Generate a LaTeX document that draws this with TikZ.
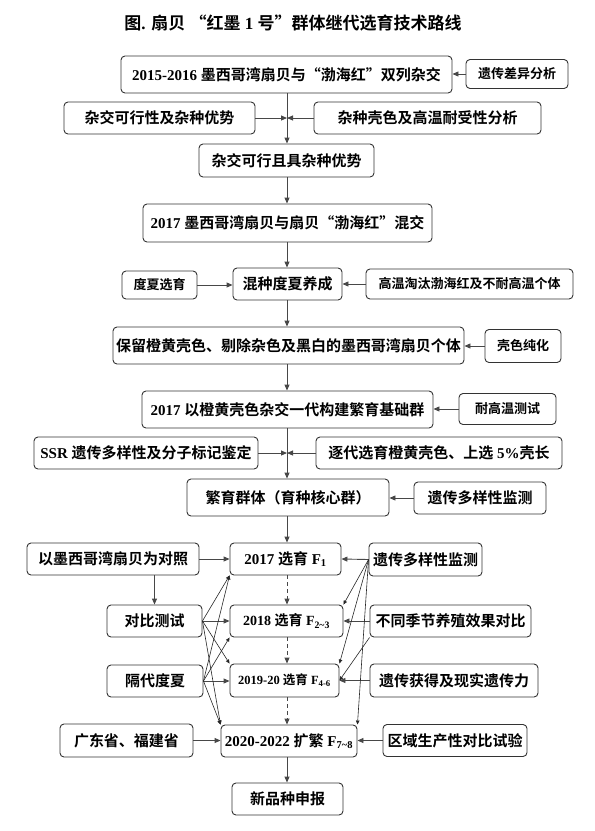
\documentclass[tikz,border=0pt]{standalone}
\usepackage{fontspec}
\setmainfont{Liberation Serif}
\newfontfamily\cjk{Noto Sans CJK SC}[BoldFont={Noto Sans CJK SC Bold}]
\usetikzlibrary{arrows.meta}

\newcommand{\lat}[1]{{\rmfamily #1}}

\tikzset{
  box/.style={draw=black!80, rounded corners=4pt, line width=0.9pt, inner sep=0pt,
    align=center, font={\fontsize{15}{18}\selectfont\cjk\bfseries}},
  small/.style={font={\fontsize{13}{16}\selectfont\cjk\bfseries}},
  arr/.style={draw=black!72, line width=0.9pt, -{Triangle[length=6pt,width=5pt]}},
  darr/.style={arr, dash pattern=on 4pt off 3pt},
  xarr/.style={draw=black!85, line width=0.6pt, -{Triangle[length=4pt,width=3.5pt]}}
}

\begin{document}
\begin{tikzpicture}[x=1pt,y=-1pt]
  \useasboundingbox (0,0) rectangle (595,831);
  \coordinate (trunk) at (287,0);

  % title
  \node[font={\fontsize{17}{20}\selectfont\cjk\bfseries}] (title) at (293,23)
    {图\lat{. }扇贝\lat{ }“红墨\lat{ 1 }号”群体继代选育技术路线};

  % crossing stage
  \node[box, minimum width=331, minimum height=37] (cross) at (286.5,74.5)
    {\lat{2015-2016 }墨西哥湾扇贝与“渤海红”双列杂交};
  \node[box, small, minimum width=102, minimum height=29] (gendiff) at (517,74) {遗传差异分析};
  \node[box, minimum width=191, minimum height=32] (feas) at (159.5,118) {杂交可行性及杂种优势};
  \node[box, minimum width=227, minimum height=32] (shellheat) at (427.5,118) {杂种壳色及高温耐受性分析};
  \node[box, minimum width=175, minimum height=33] (hetero) at (286.5,160.5) {杂交可行且具杂种优势};
  \node[box, minimum width=289, minimum height=38] (mixcross) at (287.5,223)
    {\lat{2017 }墨西哥湾扇贝与扇贝“渤海红”混交};

  % over-summering
  \node[box, small, minimum width=75, minimum height=28] (summer) at (159.5,285) {度夏选育};
  \node[box, minimum width=109, minimum height=32] (oversum) at (287.5,284) {混种度夏养成};
  \node[box, small, minimum width=207, minimum height=30] (heatcull) at (469.5,284) {高温淘汰渤海红及不耐高温个体};
  \node[box, minimum width=351, minimum height=37] (keep) at (288.5,345.5)
    {保留橙黄壳色、剔除杂色及黑白的墨西哥湾扇贝个体};
  \node[box, small, minimum width=76, minimum height=33] (purify) at (523,346) {壳色纯化};

  % base population
  \node[box, minimum width=291, minimum height=37] (base) at (287.5,409.5)
    {\lat{2017 }以橙黄壳色杂交一代构建繁育基础群};
  \node[box, small, minimum width=97, minimum height=31] (heattest) at (507.5,409) {耐高温测试};
  \node[box, minimum width=224, minimum height=32] (ssr) at (146,453) {\lat{SSR }遗传多样性及分子标记鉴定};
  \node[box, minimum width=246, minimum height=32] (select) at (439,453) {逐代选育橙黄壳色、上选\lat{ 5\%}壳长};
  \node[box, minimum width=202, minimum height=37] (core) at (288,497.5) {繁育群体（育种核心群）};
  \node[box, minimum width=132, minimum height=32] (monitorA) at (480,498) {遗传多样性监测};

  % successive generations
  \node[box, minimum width=172, minimum height=32] (control) at (113,559) {以墨西哥湾扇贝为对照};
  \node[box, minimum width=111, minimum height=32] (fone) at (285.5,559)
    {\lat{2017 }选育\lat{ F\textsubscript{1}}};
  \node[box, minimum width=113, minimum height=33] (monitorB) at (425.5,559.5) {遗传多样性监测};
  \node[box, minimum width=95, minimum height=32] (compare) at (154.5,621) {对比测试};
  \node[box, minimum width=113, minimum height=32, font={\fontsize{14}{16}\selectfont\cjk\bfseries}] (ftwo) at (286.5,621)
    {\lat{2018 }选育\lat{ F\textsubscript{2\textasciitilde3}}};
  \node[box, minimum width=161, minimum height=32] (season) at (450.5,621) {不同季节养殖效果对比};
  \node[box, minimum width=96, minimum height=32] (alt) at (155,681) {隔代度夏};
  \node[box, minimum width=109, minimum height=33, font={\fontsize{12.5}{15}\selectfont\cjk\bfseries}] (ffour) at (284.5,680.5)
    {\lat{2019-20 }选育\lat{ F\textsubscript{4-6}}};
  \node[box, minimum width=168, minimum height=33] (gain) at (454,680.5) {遗传获得及现实遗传力};
  \node[box, minimum width=133, minimum height=33] (prov) at (126.5,740.5) {广东省、福建省};
  \node[box, minimum width=136, minimum height=32] (fseven) at (289,741)
    {\lat{2020-2022 }扩繁\lat{ F\textsubscript{7\textasciitilde8}}};
  \node[box, minimum width=144, minimum height=32] (region) at (455,740.5) {区域生产性对比试验};
  \node[box, minimum width=111, minimum height=32] (apply) at (287.5,799) {新品种申报};

  % main line
  \draw[arr] (cross.south -| trunk) -- (hetero.north -| trunk);
  \draw[arr] (gendiff.west) -- (gendiff.west -| cross.east);
  \draw[arr] (feas.east) -- (feas.east -| trunk);
  \draw[arr] (shellheat.west) -- (shellheat.west -| trunk);
  \draw[arr] (hetero.south -| trunk) -- (mixcross.north -| trunk);
  \draw[arr] (mixcross.south -| trunk) -- (oversum.north -| trunk);
  \draw[arr] (summer.east) -- (summer.east -| oversum.west);
  \draw[arr] (heatcull.west) -- (heatcull.west -| oversum.east);
  \draw[arr] (oversum.south -| trunk) -- (keep.north -| trunk);
  \draw[arr] (purify.west) -- (purify.west -| keep.east);
  \draw[arr] (keep.south -| trunk) -- (base.north -| trunk);
  \draw[arr] (heattest.west) -- (heattest.west -| base.east);
  \draw[arr] (base.south -| trunk) -- (core.north -| trunk);
  \draw[arr] (ssr.east) -- (ssr.east -| trunk);
  \draw[arr] (select.west) -- (select.west -| trunk);
  \draw[arr] (monitorA.west) -- (monitorA.west -| core.east);
  \draw[arr] (core.south -| trunk) -- (fone.north -| trunk);

  % generations
  \draw[arr] (control.east) -- (fone.west);
  \draw[arr] (monitorB.west) -- (fone.east);
  \draw[arr] (control.south -| compare.north) -- (compare.north);
  \draw[darr] (fone.south -| trunk) -- (ftwo.north -| trunk);
  \draw[darr] (ftwo.south -| trunk) -- (ffour.north -| trunk);
  \draw[darr] (ffour.south -| trunk) -- (fseven.north -| trunk);
  \draw[arr] (compare.east) -- (ftwo.west);
  \draw[arr] (alt.east) -- (alt.east -| ffour.west);
  \draw[arr] (season.west) -- (ftwo.east);
  \draw[arr] (gain.west) -- (ffour.east);
  \draw[arr] (prov.east) -- (prov.east -| fseven.west);
  \draw[arr] (region.west) -- (region.west -| fseven.east);
  \draw[arr] (fseven.south -| trunk) -- (apply.north -| trunk);

  % crossing links
  \foreach \s in {compare, alt} {
    \draw[xarr] (\s.east) -- (fone.south west);
    \draw[xarr] (\s.east) -- (fseven.north west);
  }
  \draw[xarr] (compare.east) -- (ffour.north west);
  \draw[xarr] (alt.east) -- (ftwo.south west);
  \foreach \t in {ftwo, ffour, fseven}
    \draw[xarr] (monitorB.west) -- (\t.north east);
  \draw[xarr] (season.south west) -- (ffour.east);
\end{tikzpicture}
\end{document}
